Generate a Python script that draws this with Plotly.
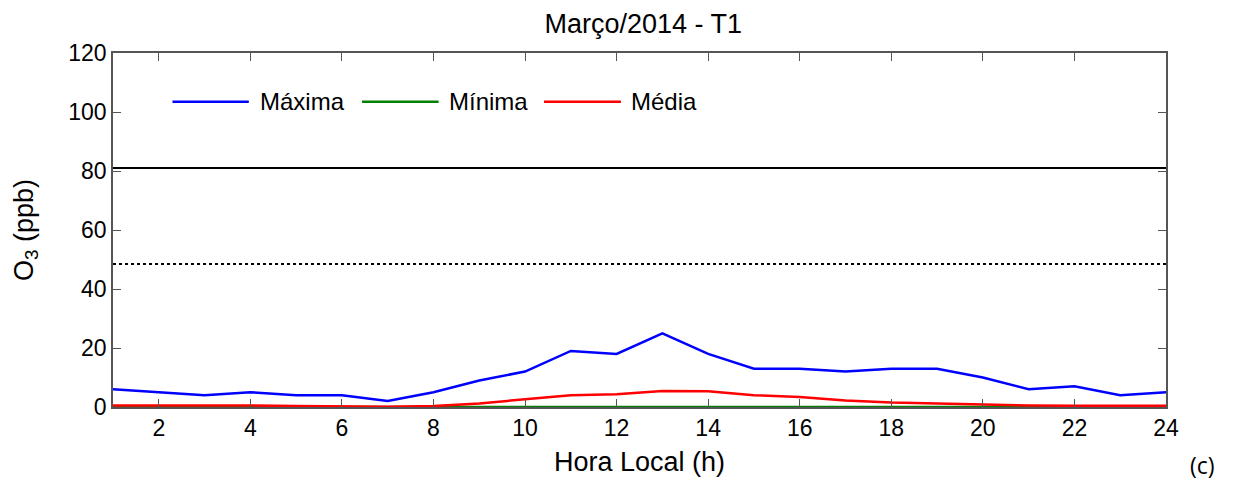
import plotly.graph_objects as go

horas = list(range(1, 25))
maxima = [6, 5, 4, 5, 4, 4, 2, 5, 9, 12, 19, 18, 25, 18, 13, 13, 12, 13, 13, 10, 6, 7, 4, 5]
minima = [0] * 24
media = [0.5, 0.5, 0.6, 0.5, 0.3, 0.2, 0.1, 0.3, 1.2, 2.6, 4.0, 4.3, 5.4, 5.3, 4.0, 3.4, 2.2, 1.5, 1.1, 0.9, 0.5, 0.4, 0.4, 0.4]
limite_solido = 81
limite_pontilhado = 48.5

series_nomes = ["Máxima", "Mínima", "Média"]
series_valores = [maxima, minima, media]
series_cores = ["#0000ff", "#008000", "#ff0000"]

font_main = "Liberation Sans, Arial, sans-serif"

fig = go.Figure()
for nome, valores, cor in zip(series_nomes, series_valores, series_cores):
    fig.add_trace(go.Scatter(x=horas, y=valores, mode="lines", name=nome,
                             showlegend=False, line=dict(color=cor, width=2.5)))
fig.add_trace(go.Scatter(x=[1, 24], y=[limite_solido, limite_solido], mode="lines",
                         showlegend=False, line=dict(color="black", width=2)))
fig.add_trace(go.Scatter(x=[1, 24], y=[limite_pontilhado, limite_pontilhado], mode="lines",
                         showlegend=False, line=dict(color="black", width=2, dash="dot")))

axis_common = dict(showgrid=False, zeroline=False, showline=True, linecolor="#555555",
                   linewidth=1.5, mirror="ticks", ticks="inside", ticklen=8,
                   tickcolor="#555555", tickfont=dict(size=23, color="black", family=font_main))

fig.update_xaxes(range=[1, 24], tickvals=list(range(2, 25, 2)),
                 title=dict(text="Hora Local (h)", font=dict(size=27, family=font_main, color="black"), standoff=12),
                 **axis_common)
fig.update_yaxes(range=[0, 120], tickvals=list(range(0, 121, 20)),
                 title=dict(text="O<sub>3</sub> (ppb)", font=dict(size=27, family=font_main, color="black"), standoff=27),
                 **axis_common)

# custom legend (long line samples as in the reference)
legend_line_x = [(0.0565, 0.129), (0.2365, 0.3092), (0.4093, 0.4824)]
legend_text_x = [0.1378, 0.3173, 0.4901]
legend_y = 0.862
shapes = []
annotations = []
for nome, cor, (x0, x1), xt in zip(series_nomes, series_cores, legend_line_x, legend_text_x):
    shapes.append(dict(type="line", xref="paper", yref="paper", x0=x0, x1=x1,
                       y0=legend_y, y1=legend_y, line=dict(color=cor, width=2.5)))
    annotations.append(dict(text=nome, xref="paper", yref="paper", x=xt, y=legend_y,
                            xanchor="left", yanchor="middle", showarrow=False,
                            font=dict(size=24, family=font_main, color="black")))
annotations.append(dict(text="(c)", xref="paper", yref="paper", x=1.035, y=-0.164,
                        xanchor="center", yanchor="middle", showarrow=False,
                        font=dict(size=23, family="Open Sans, sans-serif", color="black")))

fig.update_layout(
    width=1237, height=484,
    margin=dict(l=113, r=71, t=53, b=77),
    paper_bgcolor="white", plot_bgcolor="white",
    title=dict(text="Março/2014 - T1", x=0.52, xanchor="center", y=0.952, yanchor="middle",
               font=dict(size=27, family=font_main, color="black")),
    shapes=shapes,
    annotations=annotations,
    showlegend=False,
)

fig.write_html("out.html")
